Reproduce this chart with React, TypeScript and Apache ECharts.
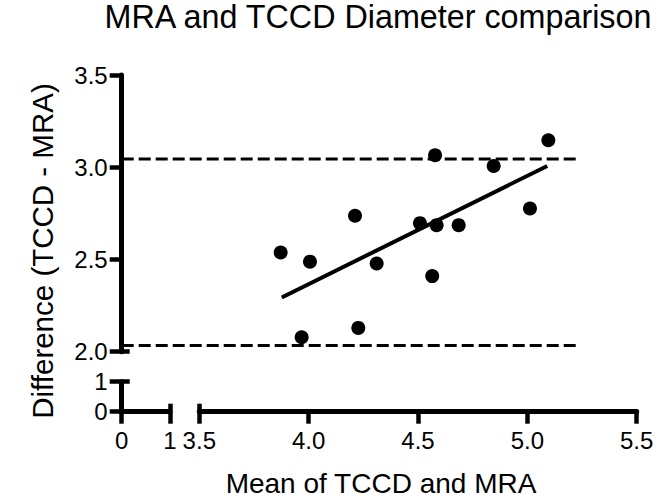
import React, { useEffect, useRef } from 'react';
import * as echarts from 'echarts';

// Bland-Altman data
const meanValues = [3.872, 4.006, 3.968, 4.212, 4.227, 4.311, 4.509, 4.585, 4.578, 4.565, 4.686, 4.846, 5.012, 5.096];
const diffValues = [2.538, 2.488, 2.078, 2.737, 2.129, 2.478, 2.697, 2.686, 3.065, 2.410, 2.686, 3.007, 2.776, 3.146];
const fitX = [3.877, 5.091];
const fitY = [2.294, 3.007];
const limitsOfAgreement = [3.045, 2.034];
const limitXRange = [3.147, 5.233];

const mainXRange = [3.5, 5.5];
const mainYRange = [2.0, 3.5];
const mainStep = 0.5;
const lowXRange = [0, 1];
const lowYRange = [0, 1];

const titleText = 'MRA and TCCD Diameter comparison';
const xTitle = 'Mean of TCCD and MRA';
const yTitle = 'Difference (TCCD - MRA)';

const FONT = '"Liberation Sans", Arial, Helvetica, sans-serif';

export default function App() {
  const ref = useRef<HTMLDivElement>(null);
  useEffect(() => {
    if (!ref.current) return;
    const chart = echarts.init(ref.current, null, { renderer: 'svg' });
    const axisLine = { show: true, onZero: false, lineStyle: { color: '#000', width: 5 } };
    const tick = { show: true, length: 12, lineStyle: { color: '#000', width: 4.5 } };
    const label = (fmt: (v: number) => string, margin: number) => ({
      show: true, color: '#000', fontSize: 24, fontFamily: FONT, margin, formatter: fmt,
    });
    const one = (v: number) => v.toFixed(1);
    const int = (v: number) => String(Math.round(v));
    const capAxis = (vals: number[]) => ({
      axisLine: { show: false },
      axisLabel: { show: false },
      splitLine: { show: false },
      axisTick: { show: true, inside: true, length: 8, customValues: vals, lineStyle: { color: '#000', width: 4.5 } },
    });
    const hidden = { show: false, splitLine: { show: false } };
    const mainXOffset = 60;
    const mainYOffset = 77.6;
    const zip = (a: number[], b: number[]) => a.map((v, i) => [v, b[i]]);

    chart.setOption({
      animation: false,
      backgroundColor: '#fff',
      grid: [
        { left: 199.3, top: 75, width: 437.4, height: 276.7 },
        { left: 121.7, top: 381.7, width: 48.3, height: 30 },
        // full-width band used for the limit lines that run across the axis break
        { left: 121.7, top: 75, width: 515, height: 276.7 },
      ],
      xAxis: [
        {
          gridIndex: 0, type: 'value', position: 'bottom', offset: mainXOffset,
          min: mainXRange[0], max: mainXRange[1], interval: mainStep,
          axisLine, axisTick: tick, axisLabel: label(one, 17), splitLine: { show: false },
        },
        {
          gridIndex: 0, type: 'value', position: 'bottom', offset: mainXOffset,
          min: mainXRange[0], max: mainXRange[1], interval: mainStep, ...capAxis([mainXRange[0]]),
        },
        {
          gridIndex: 1, type: 'value', position: 'bottom',
          min: lowXRange[0], max: lowXRange[1], interval: 1,
          axisLine, axisTick: tick, axisLabel: label(int, 17), splitLine: { show: false },
        },
        {
          gridIndex: 1, type: 'value', position: 'bottom',
          min: lowXRange[0], max: lowXRange[1], interval: 1, ...capAxis([lowXRange[1]]),
        },
        { gridIndex: 2, type: 'value', min: limitXRange[0], max: mainXRange[1], ...hidden },
      ],
      yAxis: [
        {
          gridIndex: 0, type: 'value', position: 'left', offset: mainYOffset,
          min: mainYRange[0], max: mainYRange[1], interval: mainStep,
          axisLine, axisTick: tick, axisLabel: label(one, 14), splitLine: { show: false },
        },
        {
          gridIndex: 0, type: 'value', position: 'left', offset: mainYOffset,
          min: mainYRange[0], max: mainYRange[1], interval: mainStep, ...capAxis([mainYRange[0]]),
        },
        {
          gridIndex: 1, type: 'value', position: 'left',
          min: lowYRange[0], max: lowYRange[1], interval: 1,
          axisLine, axisTick: tick, axisLabel: label(int, 14), splitLine: { show: false },
        },
        {
          gridIndex: 1, type: 'value', position: 'left',
          min: lowYRange[0], max: lowYRange[1], interval: 1, ...capAxis([lowYRange[1]]),
        },
        { gridIndex: 2, type: 'value', min: mainYRange[0], max: mainYRange[1], ...hidden },
      ],
      series: [
        ...limitsOfAgreement.map((y) => ({
          type: 'line', xAxisIndex: 4, yAxisIndex: 4, symbol: 'none', silent: true,
          data: limitXRange.map((x) => [x, y]),
          lineStyle: { color: '#000', width: 3, type: [12, 5] },
        })),
        {
          type: 'line', xAxisIndex: 0, yAxisIndex: 0, symbol: 'none', silent: true,
          data: zip(fitX, fitY),
          lineStyle: { color: '#000', width: 4 },
        },
        {
          type: 'scatter', xAxisIndex: 0, yAxisIndex: 0, symbol: 'circle', symbolSize: 14,
          itemStyle: { color: '#000', opacity: 1 },
          data: zip(meanValues, diffValues),
        },
      ],
      graphic: [
        {
          type: 'text', x: 378, y: 1,
          style: { text: titleText, fontSize: 32.3, fontFamily: FONT, fill: '#000', align: 'center', verticalAlign: 'top' },
        },
        {
          type: 'text', x: 381, y: 469,
          style: { text: xTitle, fontSize: 28, fontFamily: FONT, fill: '#000', align: 'center', verticalAlign: 'top' },
        },
        {
          type: 'text', x: 42, y: 251, rotation: Math.PI / 2,
          style: { text: yTitle, fontSize: 29.5, fontFamily: FONT, fill: '#000', align: 'center', verticalAlign: 'middle' },
        },
      ],
    });
    return () => chart.dispose();
  }, []);
  return <div ref={ref} style={{ position: 'absolute', left: 0, top: 0, width: 662, height: 501 }} />;
}
